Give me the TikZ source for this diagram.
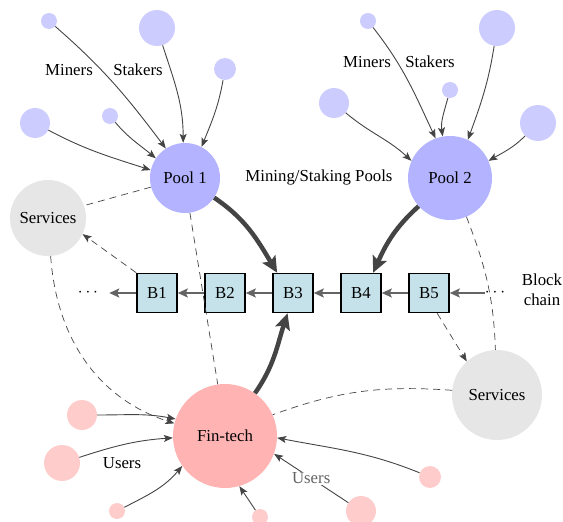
\documentclass[tikz,border=0pt]{standalone}
\usepackage{fontspec}
\setmainfont{Liberation Serif}
\usetikzlibrary{arrows.meta}
\definecolor{poolc}{RGB}{179,179,255}
\definecolor{minerc}{RGB}{204,204,255}
\definecolor{svcc}{RGB}{230,230,230}
\definecolor{finc}{RGB}{255,179,179}
\definecolor{userc}{RGB}{255,204,204}
\definecolor{blockc}{RGB}{197,226,234}
\definecolor{linec}{RGB}{68,68,68}
\definecolor{chainc}{RGB}{100,100,100}
\begin{document}
\begin{tikzpicture}[x=1pt,y=1pt,
  font=\fontsize{16.8}{20}\selectfont,
  ball/.style={circle, inner sep=0pt, draw=none},
  pool/.style={ball, fill=poolc},
  miner/.style={ball, fill=minerc},
  svc/.style={ball, fill=svcc},
  fin/.style={ball, fill=finc},
  user/.style={ball, fill=userc},
  blk/.style={draw=black, line width=1.6pt, fill=blockc, minimum width=40pt, minimum height=39pt, inner sep=0pt},
  thinarr/.style={draw=linec, line width=0.9pt, -{Stealth[length=9pt,width=7pt,inset=2pt]}},
  thickarr/.style={draw=linec, line width=4.5pt, -{Stealth[length=16pt,width=15pt,inset=3pt]}},
  chainarr/.style={draw=chainc, line width=1.8pt, -{Stealth[length=10pt,width=9pt,inset=2pt]}},
  dashln/.style={draw=linec, line width=0.7pt, dash pattern=on 7pt off 5pt},
  dasharr/.style={dashln, -{Stealth[length=9pt,width=7pt,inset=2pt]}},
  lbl/.style={inner sep=1pt}
]
\useasboundingbox (0,0) rectangle (563,-522);

% main nodes
\node[pool, minimum size=70pt] (p1) at (185,-178) {Pool 1};
\node[pool, minimum size=84pt] (p2) at (450,-178) {Pool 2};
\node[svc, minimum size=76pt] (sL) at (48,-218) {Services};
\node[svc, minimum size=90pt] (sR) at (497,-395) {Services};
\node[fin, minimum size=104pt] (fin) at (225,-436) {Fin-tech};

% blocks
\node[blk] (b1) at (157,-293) {B1};
\node[blk] (b2) at (225,-293) {B2};
\node[blk] (b3) at (293,-293) {B3};
\node[blk] (b4) at (361,-293) {B4};
\node[blk] (b5) at (429,-293) {B5};
\node[inner sep=0pt] (dL) at (88,-293) {$\cdots$};
\node[inner sep=0pt] (dR) at (495,-293) {$\cdots$};
\node[align=center, inner sep=0pt] (bc) at (542,-290) {Block\\chain};

% miners pool 1
\node[miner, minimum size=16pt] (m1) at (49,-21) {};
\node[miner, minimum size=36pt] (m2) at (157,-28) {};
\node[miner, minimum size=22pt] (m3) at (225,-69) {};
\node[miner, minimum size=30pt] (m4) at (35,-123) {};
\node[miner, minimum size=16pt] (m5) at (110,-116) {};
\node[lbl] (lm1) at (69,-70) {Miners};
\node[lbl] (ls1) at (138,-70) {Stakers};

% miners pool 2
\node[miner, minimum size=16pt] (n1) at (368,-21) {};
\node[miner, minimum size=36pt] (n3) at (497,-28) {};
\node[miner, minimum size=16pt] (n2) at (450,-90) {};
\node[miner, minimum size=30pt] (n4) at (334,-103) {};
\node[miner, minimum size=36pt] (n5) at (538,-123) {};
\node[lbl] (lm2) at (367,-62) {Miners};
\node[lbl] (ls2) at (430,-62) {Stakers};

\node[lbl] (msp) at (319,-177) {Mining/Staking Pools};

% users
\node[user, minimum size=30pt] (u1) at (82,-415) {};
\node[user, minimum size=36pt] (u2) at (62,-463) {};
\node[user, minimum size=16pt] (u3) at (117,-511) {};
\node[user, minimum size=16pt] (u4) at (260,-517) {};
\node[user, minimum size=22pt] (u5) at (430,-477) {};
\node[user, minimum size=30pt] (u6) at (361,-511) {};
\node[lbl] (lu1) at (122,-463) {Users};

% dashed connections
\draw[dashln] (p1.195) -- (sL.19);
\draw[dasharr] (b1.north west) -- (sL.-25);
\draw[dashln] (p1.-82) -- (fin.98);
\draw[dasharr] (sL.-86) to[out=-86,in=162] (fin.166);
\draw[dashln] (p2.-67) to[out=-69,in=92] (sR.92);
\draw[dasharr] (b5.-68) -- (sR.132);
\draw[dashln] (sR.174) to[out=176,in=20] (fin.24);

% miner arrows pool 1
\draw[thinarr] (m1) to[out=-41,in=127] (p1.123);
\draw[thinarr] (m2) to[out=-72,in=90] (p1.93);
\draw[thinarr] (m3) to[out=-100,in=68] (p1.62);
\draw[thinarr] (m4) to[out=-28,in=162] (p1.167);
\draw[thinarr] (m5) to[out=-50,in=140] (p1.146);

% miner arrows pool 2
\draw[thinarr] (n1) to[out=-52,in=115] (p2.110);
\draw[thinarr] (n2) to[out=-105,in=98] (p2.100);
\draw[thinarr] (n3) to[out=-99,in=70] (p2.65);
\draw[thinarr] (n4) to[out=-40,in=137] (p2.156);
\draw[thinarr] (n5) to[out=-135,in=30] (p2.24);

% user arrows
\draw[thinarr] (u1) to[out=0,in=169] (fin.161);
\draw[thinarr] (u2) to[out=18,in=184] (fin.182);
\draw[thinarr] (u3) to[out=27,in=230] (fin.215);
\draw[thinarr] (u4) -- (fin.286);
\draw[thinarr] (u5) to[out=158,in=-11] (fin.-2);
\draw[thinarr] (u6) -- node[fill=white, text=chainc, inner sep=1pt] {Users} (fin.-20);

% chain
\draw[chainarr] (b2) -- (b1);
\draw[chainarr] (b3) -- (b2);
\draw[chainarr] (b4) -- (b3);
\draw[chainarr] (b5) -- (b4);
\draw[chainarr, shorten >=11pt] (b1) -- (dL.east);
\draw[chainarr] (dR.west) -- (b5);

% thick arrows
\draw[thickarr] (p1) to[out=-34,in=121] (b3.128);
\draw[thickarr] (p2) to[out=-138,in=66] (b4.59);
\draw[thickarr] (fin) to[out=55,in=-108] (b3.-105);
\end{tikzpicture}
\end{document}
